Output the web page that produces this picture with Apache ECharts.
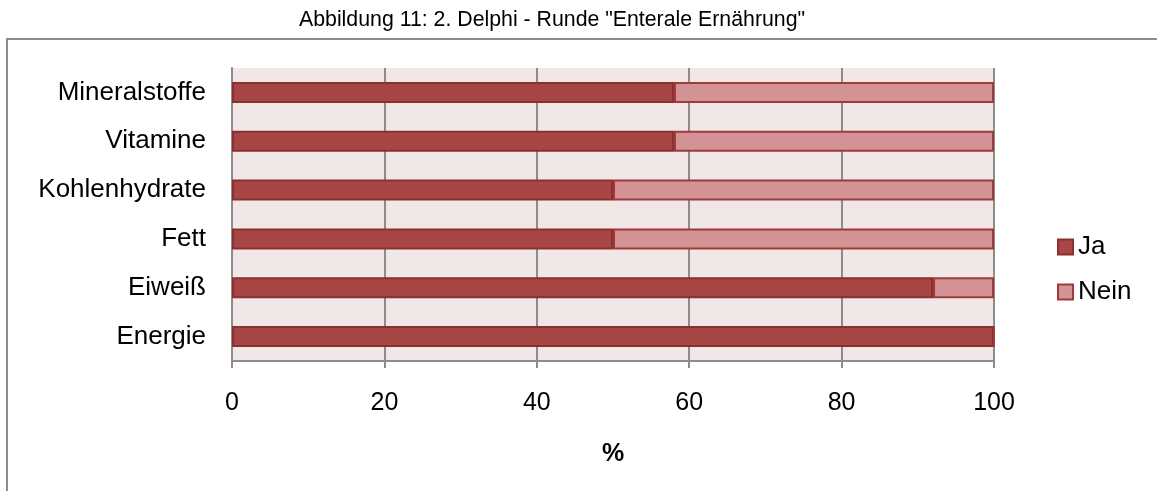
<!DOCTYPE html>
<html><head><meta charset="utf-8">
<script src="https://cdn.jsdelivr.net/npm/echarts@6/dist/echarts.min.js"></script>
<style>html,body{margin:0;padding:0;background:#fff}#c{width:1157px;height:491px}</style>
</head><body><div id="c"></div>
<script>
const categories = ["Energie", "Eiweiß", "Fett", "Kohlenhydrate", "Vitamine", "Mineralstoffe"];
const jaValues = [100, 92, 50, 50, 58, 58];
const neinValues = [0, 8, 50, 50, 42, 42];
const xTicks = [0, 20, 40, 60, 80, 100];

const chart = echarts.init(document.getElementById('c'), null, {renderer: 'canvas'});
const font = 'Liberation Sans, Arial, sans-serif';
chart.setOption({
  animation: false,
  backgroundColor: '#fff',
  title: {
    text: 'Abbildung 11: 2. Delphi - Runde "Enterale Ernährung"',
    left: 294, top: 5,
    textStyle: {fontFamily: font, fontSize: 21.3, fontWeight: 'normal', color: '#000'}
  },
  graphic: [{
    type: 'rect', z: -1, silent: true,
    shape: {x: 7, y: 39, width: 1200, height: 500},
    style: {fill: 'none', stroke: '#8c8c8c', lineWidth: 2}
  }],
  grid: {left: 232, right: 163, top: 68, bottom: 130, backgroundColor: '#F2E7E7', show: true, borderWidth: 0},
  legend: {
    orient: 'vertical', left: 1052, top: 229,
    icon: 'rect',
    itemWidth: 15, itemHeight: 15, itemGap: 19,
    textStyle: {fontFamily: font, fontSize: 26, color: '#000'},
    data: ['Ja', 'Nein']
  },
  xAxis: {
    type: 'value', min: 0, max: 100, interval: 20,
    name: '%', nameLocation: 'middle', nameGap: 81,
    nameTextStyle: {fontFamily: font, fontSize: 25, fontWeight: 'bold', color: '#000'},
    axisLine: {show: true, lineStyle: {color: '#8c8c8c', width: 2}},
    axisTick: {show: true, length: 7, lineStyle: {color: '#8c8c8c', width: 2}},
    axisLabel: {fontFamily: font, fontSize: 25, color: '#000', margin: 30,
      formatter: v => xTicks.includes(v) ? String(v) : ''},
    splitLine: {show: true, lineStyle: {color: '#8c8c8c', width: 2}}
  },
  yAxis: {
    type: 'category', data: categories,
    axisLine: {show: true, lineStyle: {color: '#8c8c8c', width: 2}},
    axisTick: {show: false},
    axisLabel: {fontFamily: font, fontSize: 26, color: '#000', margin: 26},
    splitLine: {show: false}
  },
  series: [
    {name: 'Ja', type: 'bar', stack: 'a', data: jaValues, barCategoryGap: '57%',
     itemStyle: {color: '#A84646', borderColor: '#8C2F2F', borderWidth: 2}},
    {name: 'Nein', type: 'bar', stack: 'a', data: neinValues, barCategoryGap: '57%',
     itemStyle: {color: '#D39394', borderColor: '#9E3A3A', borderWidth: 2}}
  ]
});
</script></body></html>
